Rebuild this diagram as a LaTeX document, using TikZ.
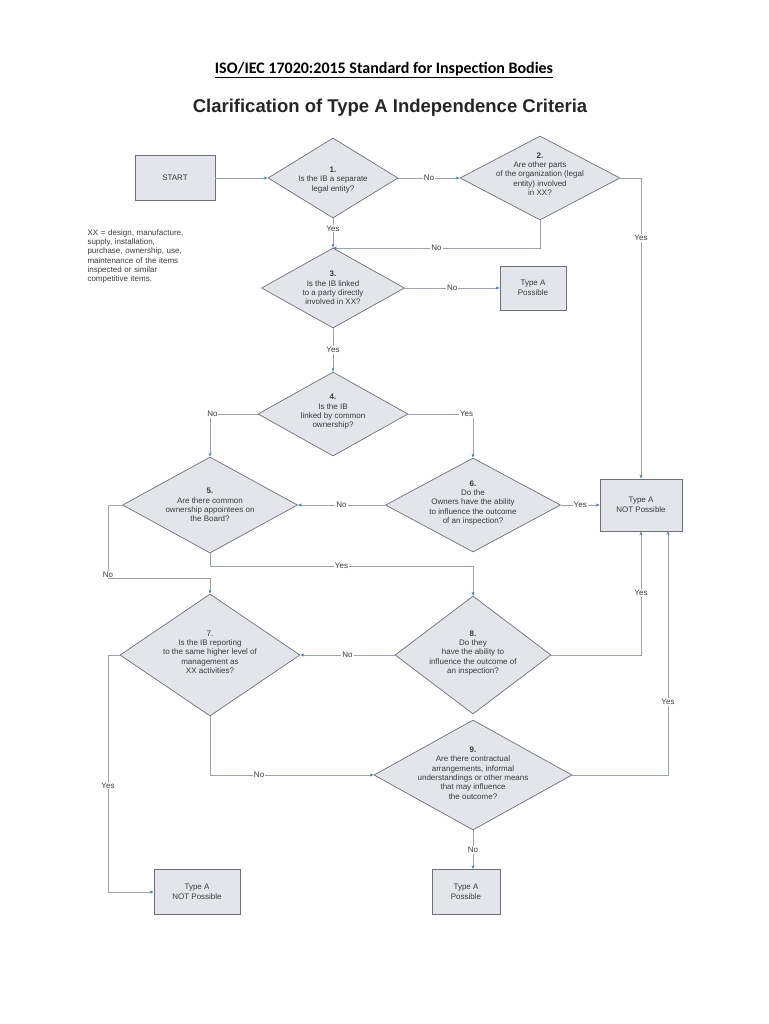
\documentclass[tikz,border=0pt]{standalone}
\usepackage{fontspec}
\setmainfont{Liberation Sans}
\newfontfamily\titlefont{Carlito}
\usetikzlibrary{shapes.geometric,arrows.meta}
\definecolor{fillg}{HTML}{E3E5EA}
\definecolor{edgeg}{HTML}{6E7078}
\definecolor{lineg}{HTML}{9AA2AE}
\definecolor{tipc}{HTML}{4F7CAC}
\definecolor{txt}{HTML}{3A3A3A}
\begin{document}
\begin{tikzpicture}[x=1pt,y=-1pt,
  dia/.style={diamond,draw=edgeg,fill=fillg,inner sep=0pt,line width=0.7pt},
  box/.style={rectangle,draw=edgeg,fill=fillg,line width=0.8pt,font=\fontsize{8}{9.5}\selectfont,text=txt,align=center},
  dt/.style={font=\fontsize{8}{9.3}\selectfont,text=txt,align=center},
  ln/.style={draw=lineg,line width=0.7pt},
  ar/.style={ln,-{Stealth[length=4pt,width=3pt,color=tipc]}},
  lb/.style={fill=white,inner sep=1pt,font=\fontsize{8}{9}\selectfont,text=txt}]
\useasboundingbox (0,0) rectangle (768,1024);
\node[font=\titlefont\bfseries\fontsize{16}{18}\selectfont] (title) at (384,70) {\underline{ISO/IEC 17020:2015 Standard for Inspection Bodies}};
\node[font=\bfseries\fontsize{18.5}{20}\selectfont,text=black!85] (sub) at (390,108) {Clarification of Type A Independence Criteria};

\node[box,minimum width=80,minimum height=45] (start) at (175,178) {START};
\node[dia,minimum width=130,minimum height=80] (d1) at (333,178) {};
\node[dt] at (333,180) {\textbf{1.}\\Is the IB a separate\\legal entity?};
\node[dia,minimum width=160,minimum height=84] (d2) at (540,178) {};
\node[dt] at (540,174) {\textbf{2.}\\Are other parts\\of the organization (legal\\entity) involved\\in XX?};
\node[dia,minimum width=143,minimum height=80] (d3) at (333,288) {};
\node[dt] at (333,288) {\textbf{3.}\\Is the IB linked\\to a party directly\\involved in XX?};
\node[box,minimum width=66,minimum height=44] (pA) at (533,288) {Type A\\Possible};
\node[dt,align=left,anchor=north west,text width=150] (legend) at (84,226) {XX = design, manufacture,\\supply, installation,\\purchase, ownership, use,\\maintenance of the items\\inspected or similar\\competitive items.};
\node[dia,minimum width=150,minimum height=84] (d4) at (333,414) {};
\node[dt] at (333,412) {\textbf{4.}\\Is the IB\\linked by common\\ownership?};
\node[dia,minimum width=175,minimum height=96] (d5) at (210,505) {};
\node[dt] at (210,505) {\textbf{5.}\\Are there common\\ownership appointees on\\the Board?};
\node[dia,minimum width=175,minimum height=94] (d6) at (473,505) {};
\node[dt] at (473,503) {\textbf{6.}\\Do the\\Owners have the ability\\to influence the outcome\\of an inspection?};
\node[box,minimum width=82,minimum height=52] (nA) at (641,505) {Type A\\NOT Possible};
\node[dia,minimum width=180,minimum height=122] (d7) at (210,655) {};
\node[dt] at (210,652) {7.\\Is the IB reporting\\to the same higher level of\\management as\\XX activities?};
\node[dia,minimum width=156,minimum height=118] (d8) at (473,655) {};
\node[dt] at (473,653) {\textbf{8.}\\Do they\\have the ability to\\influence the outcome of\\an inspection?};
\node[dia,minimum width=198,minimum height=110] (d9) at (473,775) {};
\node[dt] at (473,773) {\textbf{9.}\\Are there contractual\\arrangements, informal\\understandings or other means\\that may influence\\the outcome?};
\node[box,minimum width=68,minimum height=45] (pB) at (466,892) {Type A\\Possible};
\node[box,minimum width=86,minimum height=45] (nB) at (197,892) {Type A\\NOT Possible};

\coordinate (j3) at (333,248);
\draw[ar] (start) -- (d1);
\draw[ar] (d1) -- node[lb]{No} (d2);
\draw[ar] (d1) -- node[lb,pos=0.35]{Yes} (d3);
\draw[ar] (d2.south) |- node[lb,pos=0.75]{No} (j3);
\draw[ar] (d2.east) -| node[lb,pos=0.6]{Yes} (nA.north);
\draw[ar] (d3) -- node[lb]{No} (pA);
\draw[ar] (d3) -- node[lb]{Yes} (d4);
\draw[ar] (d4.west) -- node[lb,pos=0.95]{No} (210,414) -- (d5.north);
\draw[ar] (d4.east) -- node[lb,pos=0.9]{Yes} (473,414) -- (d6.north);
\draw[ar] (d6) -- node[lb]{Yes} (nA);
\draw[ar] (d6) -- node[lb]{No} (d5);
\draw[ar] (d5.west) -- (108,505) -- node[lb,pos=0.95]{No} (108,578) -- (210,578) -- (d7.north);
\draw[ar] (d5.south) -- (210,566) -- node[lb]{Yes} (473,566) -- (d8.north);
\draw[ar] (d8) -- node[lb]{No} (d7);
\draw[ar] (d8.east) -| node[lb,pos=0.75]{Yes} (nA.south);
\draw[ar] (d7.south) -- (210,775) -- node[lb,pos=0.3]{No} (d9.west);
\draw[ar] (d9.east) -- (668,775) -- node[lb,pos=0.3]{Yes} (668,531);
\draw[ar] (d9) -- node[lb]{No} (pB.north -| d9);
\draw[ar] (d7.west) -- (108,655) -- node[lb,pos=0.55]{Yes} (108,892) -- (nB.west);
\end{tikzpicture}
\end{document}
